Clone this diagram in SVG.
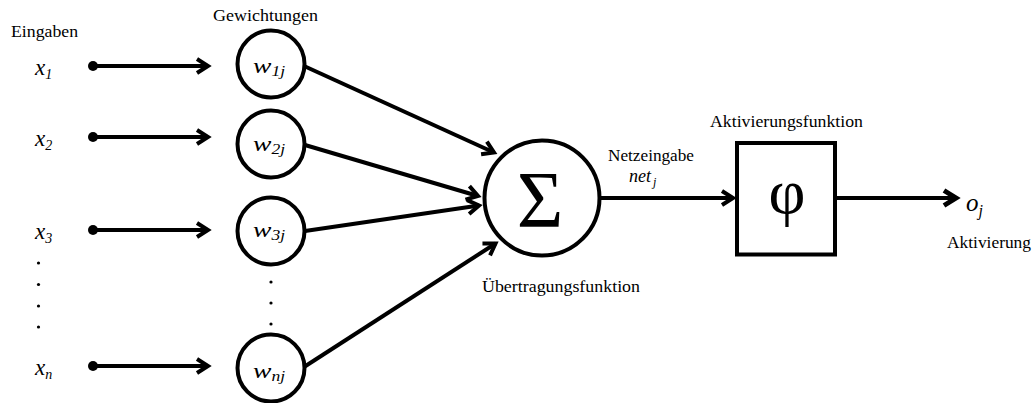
<svg xmlns="http://www.w3.org/2000/svg" width="1036" height="403" viewBox="0 0 1036 403" font-family="'Liberation Serif', 'DejaVu Serif', 'Times New Roman', serif">
  <style>
    text { font-family: "Liberation Serif", "DejaVu Serif", "Times New Roman", serif; fill: #000; }
    .lbl { font-size: 16px; }
    .var { font-style: italic; }
    .node { fill: #fff; stroke: #000; stroke-width: 4; }
    .wire { fill: none; stroke: #000; stroke-width: 4; marker-end: url(#head); }
    .out { fill: none; stroke: #000; stroke-width: 4; marker-end: url(#headBold); }
  </style>
  <defs>
    <marker id="head" markerUnits="userSpaceOnUse" orient="auto" markerWidth="30" markerHeight="30" refX="0" refY="0" viewBox="-15 -15 30 30" overflow="visible">
      <path d="M-11,-7 L0,0 L-11,7" fill="none" stroke="#000" stroke-width="4"/>
    </marker>
    <marker id="headBold" markerUnits="userSpaceOnUse" orient="auto" markerWidth="30" markerHeight="30" refX="0" refY="0" viewBox="-15 -15 30 30" overflow="visible">
      <path d="M-12,-7.5 L0,0 L-12,7.5" fill="none" stroke="#000" stroke-width="5"/>
    </marker>
  </defs>

  <rect width="1036" height="403" fill="#fff"/>

  <!-- headings -->
  <text class="lbl" x="11" y="37" textLength="67" lengthAdjust="spacingAndGlyphs">Eingaben</text>
  <text class="lbl" x="213" y="21" textLength="105" lengthAdjust="spacingAndGlyphs">Gewichtungen</text>

  <!-- input labels -->
  <g id="inputs">
    <text class="var" x="35" y="75" font-size="23">x<tspan font-size="14" dy="4">1</tspan></text>
    <text class="var" x="35" y="146" font-size="23">x<tspan font-size="14" dy="4">2</tspan></text>
    <text class="var" x="35" y="239" font-size="23">x<tspan font-size="14" dy="4">3</tspan></text>
    <text class="var" x="35" y="375" font-size="23">x<tspan font-size="14" dy="4">n</tspan></text>
    <g fill="#000">
      <circle cx="38.5" cy="263" r="1.6"/>
      <circle cx="38.5" cy="284.5" r="1.6"/>
      <circle cx="38.5" cy="306" r="1.6"/>
      <circle cx="38.5" cy="327" r="1.6"/>
    </g>
  </g>

  <!-- connectors -->
  <g id="connectors">
    <g fill="#000">
      <circle cx="93" cy="66" r="5"/>
      <circle cx="93" cy="137" r="5"/>
      <circle cx="93" cy="230" r="5"/>
      <circle cx="93" cy="366" r="5"/>
    </g>
    <line class="wire" x1="93" y1="66" x2="208" y2="66"/>
    <line class="wire" x1="93" y1="137" x2="208" y2="137"/>
    <line class="wire" x1="93" y1="230" x2="208" y2="230"/>
    <line class="wire" x1="93" y1="366" x2="208" y2="366"/>

    <line class="wire" x1="304" y1="66" x2="494" y2="152.5"/>
    <line class="wire" x1="305" y1="145" x2="478" y2="196"/>
    <line class="wire" x1="305" y1="231" x2="479" y2="205.5"/>
    <line class="wire" x1="304" y1="367" x2="495.5" y2="243.5"/>

    <line class="wire" x1="599" y1="198" x2="733" y2="198"/>
    <line class="out" x1="835" y1="198" x2="956" y2="198"/>
  </g>

  <!-- weights -->
  <g id="w1">
    <circle class="node" cx="271" cy="64" r="33.5"/>
    <text class="var" x="253" y="73" font-size="22" textLength="32" lengthAdjust="spacingAndGlyphs">w<tspan font-size="14" dy="3">1j</tspan></text>
  </g>
  <g id="w2">
    <circle class="node" cx="271" cy="144" r="33.5"/>
    <text class="var" x="253" y="151" font-size="22" textLength="32" lengthAdjust="spacingAndGlyphs">w<tspan font-size="14" dy="3">2j</tspan></text>
  </g>
  <g id="w3">
    <circle class="node" cx="271" cy="231" r="33.5"/>
    <text class="var" x="253" y="237" font-size="22" textLength="32" lengthAdjust="spacingAndGlyphs">w<tspan font-size="14" dy="3">3j</tspan></text>
  </g>
  <g fill="#000">
    <circle cx="271" cy="282" r="1.6"/>
    <circle cx="271" cy="303" r="1.6"/>
    <circle cx="271" cy="324" r="1.6"/>
  </g>
  <g id="wn">
    <circle class="node" cx="271" cy="368" r="33.5"/>
    <text class="var" x="253" y="378" font-size="22" textLength="32" lengthAdjust="spacingAndGlyphs">w<tspan font-size="14" dy="3">nj</tspan></text>
  </g>

  <!-- transfer function -->
  <g id="sum">
    <circle class="node" cx="542" cy="198" r="57.5"/>
    <text x="540" y="227" font-size="80" text-anchor="middle">Σ</text>
    <text class="lbl" x="482" y="292" textLength="158" lengthAdjust="spacingAndGlyphs">Übertragungsfunktion</text>
  </g>

  <text class="lbl" x="608" y="161" textLength="86" lengthAdjust="spacingAndGlyphs">Netzeingabe</text>
  <text class="var" x="629" y="182" font-size="18">net<tspan font-size="12" dx="2" dy="4">j</tspan></text>

  <!-- activation function -->
  <g id="phi">
    <rect class="node" x="737" y="143" width="98" height="111.5"/>
    <text x="787" y="213" font-size="64" text-anchor="middle">φ</text>
    <text class="lbl" x="710" y="127" textLength="153" lengthAdjust="spacingAndGlyphs">Aktivierungsfunktion</text>
  </g>

  <!-- output -->
  <g id="output">
    <text class="var" x="966" y="211" font-size="25">o<tspan font-size="16" dy="5">j</tspan></text>
    <text class="lbl" x="947" y="248" textLength="84" lengthAdjust="spacingAndGlyphs">Aktivierung</text>
  </g>
</svg>
